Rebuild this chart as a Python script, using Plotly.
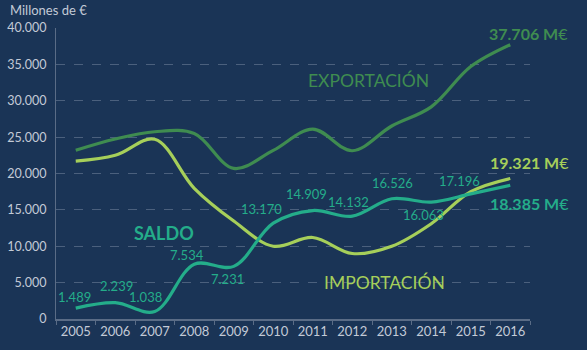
import plotly.graph_objects as go

years = ["2005", "2006", "2007", "2008", "2009", "2010", "2011", "2012", "2013", "2014", "2015", "2016"]
exportacion = [23190, 24740, 25740, 25500, 20700, 23170, 26110, 23130, 26530, 29160, 34700, 37706]
importacion = [21700, 22500, 24700, 17970, 13470, 10000, 11200, 9000, 10000, 13100, 17500, 19321]
saldo = [1489, 2239, 1038, 7534, 7231, 13170, 14909, 14132, 16526, 16063, 17196, 18385]
saldo_labels = ["1.489", "2.239", "1.038", "7.534", "7.231", "13.170", "14.909", "14.132", "16.526", "16.063", "17.196", "18.385"]
y_ticks = [0, 5000, 10000, 15000, 20000, 25000, 30000, 35000, 40000]
y_ticktext = ["0", "5.000", "10.000", "15.000", "20.000", "25.000", "30.000", "35.000", "40.000"]

BG = "#1a3456"
C_EXP = "#3f8c50"
C_IMP = "#a6cf5a"
C_SAL = "#24ad8a"
GRID = "#4b607d"
TXT = "#c3cad6"
FONT = "Lato"

fig = go.Figure()
fig.add_trace(go.Scatter(x=years, y=exportacion, mode="lines",
                         line=dict(color=C_EXP, width=3.2, shape="spline", smoothing=1.0)))
fig.add_trace(go.Scatter(x=years, y=importacion, mode="lines",
                         line=dict(color=C_IMP, width=3.2, shape="spline", smoothing=1.0)))
fig.add_trace(go.Scatter(x=years, y=saldo, mode="lines",
                         line=dict(color=C_SAL, width=3.2, shape="spline", smoothing=1.0)))

# label offsets (pixels) for saldo values
offsets = [(-1, 11), (1, 17), (-9, 14), (-7, 9), (-6, -13), (-12, 14), (-6, 17), (-4, 14), (1, 16), (-8, -13), (-11, 13), None]
annotations = []
for i, (v, lab) in enumerate(zip(saldo, saldo_labels)):
    if offsets[i] is None:
        continue
    dx, dy = offsets[i]
    annotations.append(dict(x=i, y=v, text=lab, showarrow=False, xshift=dx, yshift=dy,
                            font=dict(family=FONT, size=13, color=C_SAL)))

last = len(years) - 1
# end labels
annotations.append(dict(x=last, y=exportacion[-1], text="<b>37.706 M</b>€", showarrow=False,
                        xanchor="left", xshift=-23, yshift=11, font=dict(family=FONT, size=16, color=C_EXP)))
annotations.append(dict(x=last, y=importacion[-1], text="<b>19.321 M</b>€", showarrow=False,
                        xanchor="left", xshift=-22, yshift=16, font=dict(family=FONT, size=16, color=C_IMP)))
annotations.append(dict(x=last, y=saldo[-1], text="<b>18.385 M</b>€", showarrow=False,
                        xanchor="left", xshift=-22, yshift=-18, font=dict(family=FONT, size=16, color=C_SAL)))

# series labels
annotations.append(dict(x=6, y=33000, text="EXPORTACIÓN", showarrow=False,
                        xshift=56, yshift=-2, font=dict(family=FONT, size=17.5, color=C_EXP)))
annotations.append(dict(x=8, y=4800, text="IMPORTACIÓN", showarrow=False,
                        xshift=-7, yshift=2, font=dict(family=FONT, size=17.5, color=C_IMP)))
annotations.append(dict(x=2, y=11500, text="<b>SALDO</b>", showarrow=False,
                        xshift=9, yshift=2, font=dict(family=FONT, size=18, color=C_SAL)))

annotations.append(dict(xref="paper", yref="paper", x=0, y=1, xshift=-48, yshift=18,
                        xanchor="left", yanchor="middle", text="Millones de €", showarrow=False,
                        font=dict(family=FONT, size=13, color=TXT)))

fig.update_layout(
    width=587, height=350,
    margin=dict(l=56, r=57, t=28, b=31),
    paper_bgcolor=BG, plot_bgcolor=BG,
    showlegend=False,
    annotations=annotations,
    xaxis=dict(type="category", range=[-0.5, 11.5], showgrid=False,
               showline=True, linecolor="#5a6c86", linewidth=1.5,
               ticks="outside", tickson="boundaries", ticklen=4, tickcolor="#5a6c86",
               tickangle=0, automargin=False,
               tickfont=dict(family=FONT, size=13, color=TXT)),
    yaxis=dict(range=[0, 40000], tickvals=y_ticks, ticktext=y_ticktext,
               showgrid=True, gridcolor=GRID, griddash="dash", gridwidth=1,
               showline=True, linecolor="#5a6c86", linewidth=1,
               zeroline=False, ticks="", ticklabelstandoff=6, automargin=False,
               tickfont=dict(family=FONT, size=12.5, color=TXT)),
)

fig.write_html("out.html")
